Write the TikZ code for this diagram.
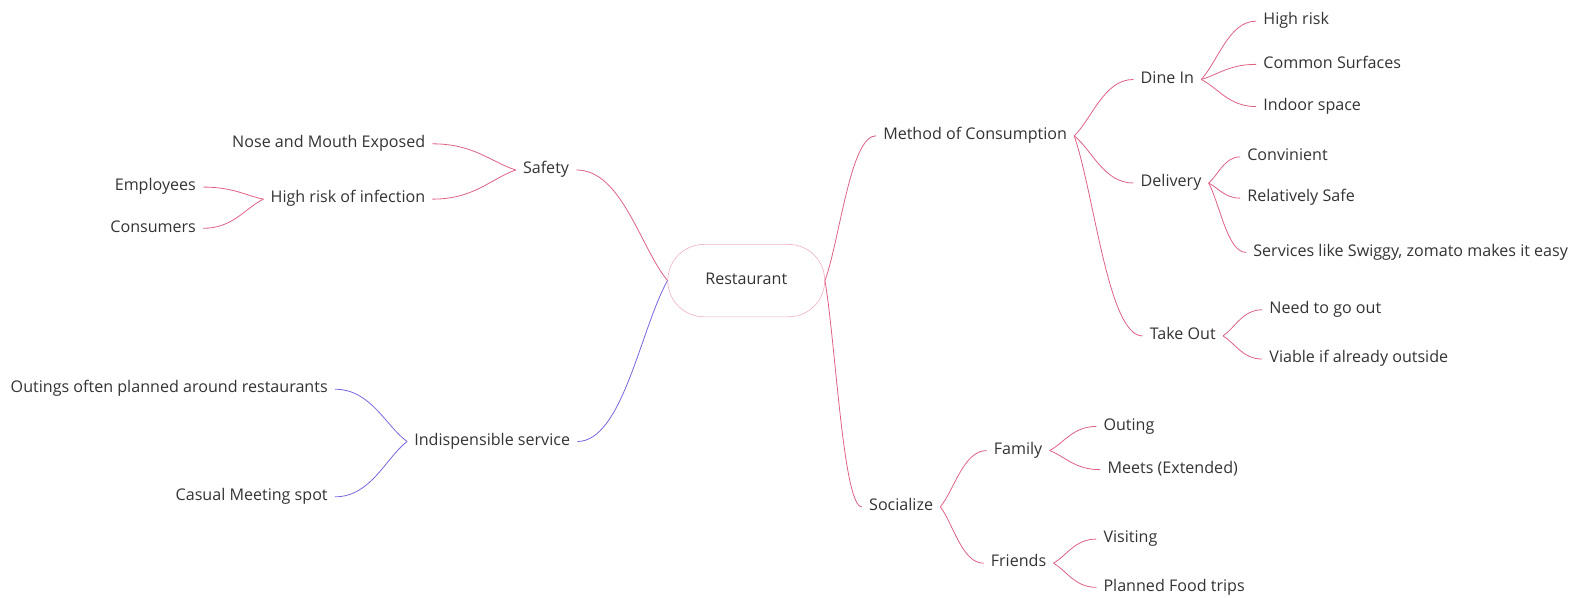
\documentclass[tikz,border=0pt]{standalone}
\usepackage{fontspec}
\setmainfont{Open Sans}
\usepackage{xcolor}
\usetikzlibrary{calc}

\definecolor{branchred}{RGB}{222,98,132}
\definecolor{branchblue}{RGB}{118,104,222}
\definecolor{rootpink}{RGB}{238,176,196}
\definecolor{labelgray}{RGB}{51,51,51}

\tikzset{
  topic/.style={inner xsep=7pt, inner ysep=0pt, text height=11pt, text depth=3.5pt,
    text=labelgray, font=\fontsize{16}{19}\selectfont},
  branch/.style={draw=branchred, line width=0.8pt,
    to path={let \p1=(\tikztostart), \p2=(\tikztotarget) in
      .. controls ({\x1+0.3*(\x2-\x1)},{\y1+0.3*(\y2-\y1)})
             and ({\x1+0.5*(\x2-\x1)},\y2) .. (\tikztotarget)}},
  bluebranch/.style={branch, draw=branchblue},
}

\begin{document}
\begin{tikzpicture}[x=1pt, y=-1pt]
        \useasboundingbox (0,-2) rectangle (1568,592);

        % Root
        \node[topic, draw=rootpink, line width=0.6pt, rounded corners=36pt,
              minimum width=156pt, minimum height=72pt] (rest) at (742,277) {Restaurant};

        % Left side
        \node[topic, anchor=east] (safety) at (573,167) {Safety};
        \node[topic, anchor=east] (nose) at (430,141) {Nose and Mouth Exposed};
        \node[topic, anchor=east] (infection) at (430,196) {High risk of infection};
        \node[topic, anchor=east] (employees) at (202,184) {Employees};
        \node[topic, anchor=east] (consumers) at (202,225) {Consumers};
        \node[topic, anchor=east] (service) at (574,437) {Indispensible service};
        \node[topic, anchor=east] (outings) at (333,385) {Outings often planned around restaurants};
        \node[topic, anchor=east] (casual) at (333,492) {Casual Meeting spot};

        % Right side
        \node[topic, anchor=west] (method) at (871,133) {Method of Consumption};
        \node[topic, anchor=west] (dinein) at (1127,77) {Dine In};
        \node[topic, anchor=west] (highrisk) at (1249,19) {High risk};
        \node[topic, anchor=west] (surfaces) at (1249,62) {Common Surfaces};
        \node[topic, anchor=west] (indoor) at (1249,104) {Indoor space};
        \node[topic, anchor=west] (delivery) at (1127,180) {Delivery};
        \node[topic, anchor=west] (convinient) at (1233,154) {Convinient};
        \node[topic, anchor=west] (safe) at (1233,195) {Relatively Safe};
        \node[topic, anchor=west] (swiggy) at (1239,249) {Services like Swiggy, zomato makes it easy};
        \node[topic, anchor=west] (takeout) at (1136,332) {Take Out};
        \node[topic, anchor=west] (goout) at (1255,306) {Need to go out};
        \node[topic, anchor=west] (viable) at (1255,355) {Viable if already outside};
        \node[topic, anchor=west] (socialize) at (857,502) {Socialize};
        \node[topic, anchor=west] (family) at (981,446) {Family};
        \node[topic, anchor=west] (outing) at (1090,422) {Outing};
        \node[topic, anchor=west] (meets) at (1094,465) {Meets (Extended)};
        \node[topic, anchor=west] (friends) at (978,558) {Friends};
        \node[topic, anchor=west] (visiting) at (1090,534) {Visiting};
        \node[topic, anchor=west] (foodtrips) at (1090,582) {Planned Food trips};

        % Left branches
        \draw[branch] (rest.west) to (safety.east);
        \draw[branch] (safety.west) to (nose.east);
        \draw[branch] (safety.west) to (infection.east);
        \draw[branch] (infection.west) to (employees.east);
        \draw[branch] (infection.west) to (consumers.east);
        \draw[bluebranch] (rest.west) to (service.east);
        \draw[bluebranch] (service.west) to (outings.east);
        \draw[bluebranch] (service.west) to (casual.east);

        % Right branches
        \draw[branch] (rest.east) to (method.west);
        \draw[branch] (method.east) to (dinein.west);
        \draw[branch] (method.east) to (delivery.west);
        \draw[branch] (method.east) to (takeout.west);
        \foreach \c in {highrisk, surfaces, indoor}
            \draw[branch] (dinein.east) to (\c.west);
        \foreach \c in {convinient, safe, swiggy}
            \draw[branch] (delivery.east) to (\c.west);
        \foreach \c in {goout, viable}
            \draw[branch] (takeout.east) to (\c.west);
        \draw[branch] (rest.east) to (socialize.west);
        \draw[branch] (socialize.east) to (family.west);
        \draw[branch] (socialize.east) to (friends.west);
        \foreach \c in {outing, meets}
            \draw[branch] (family.east) to (\c.west);
        \foreach \c in {visiting, foodtrips}
            \draw[branch] (friends.east) to (\c.west);
    \end{tikzpicture}
\end{document}
